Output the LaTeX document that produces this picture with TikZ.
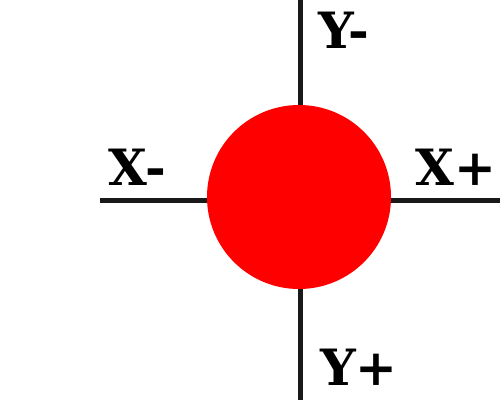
\documentclass[tikz,border=0pt]{standalone}
\usepackage{fontspec}
\setmainfont{DejaVu Serif}
\begin{document}
\begin{tikzpicture}[x=1pt,y=-1pt,
  axis/.style={line width=5pt,draw=black!90},
  lbl/.style={anchor=base west,inner sep=0pt,font=\fontsize{50}{50}\selectfont\bfseries}]
\useasboundingbox (0,0) rectangle (500,400);
\coordinate (top) at (300,0);
\coordinate (bot) at (300,400);
\coordinate (left) at (100,200);
\coordinate (right) at (500,200);
\draw[axis] (top) -- (bot);
\draw[axis] (left) -- (right);
\node[circle,fill=red,minimum size=184pt,inner sep=0pt] (ball) at (299,197) {};
\node[lbl] (ym) at (318,48) {Y-};
\node[lbl] (xm) at (108,185) {X-};
\node[lbl] (xp) at (415,185) {X+};
\node[lbl] (yp) at (320,385) {Y+};
\end{tikzpicture}
\end{document}
